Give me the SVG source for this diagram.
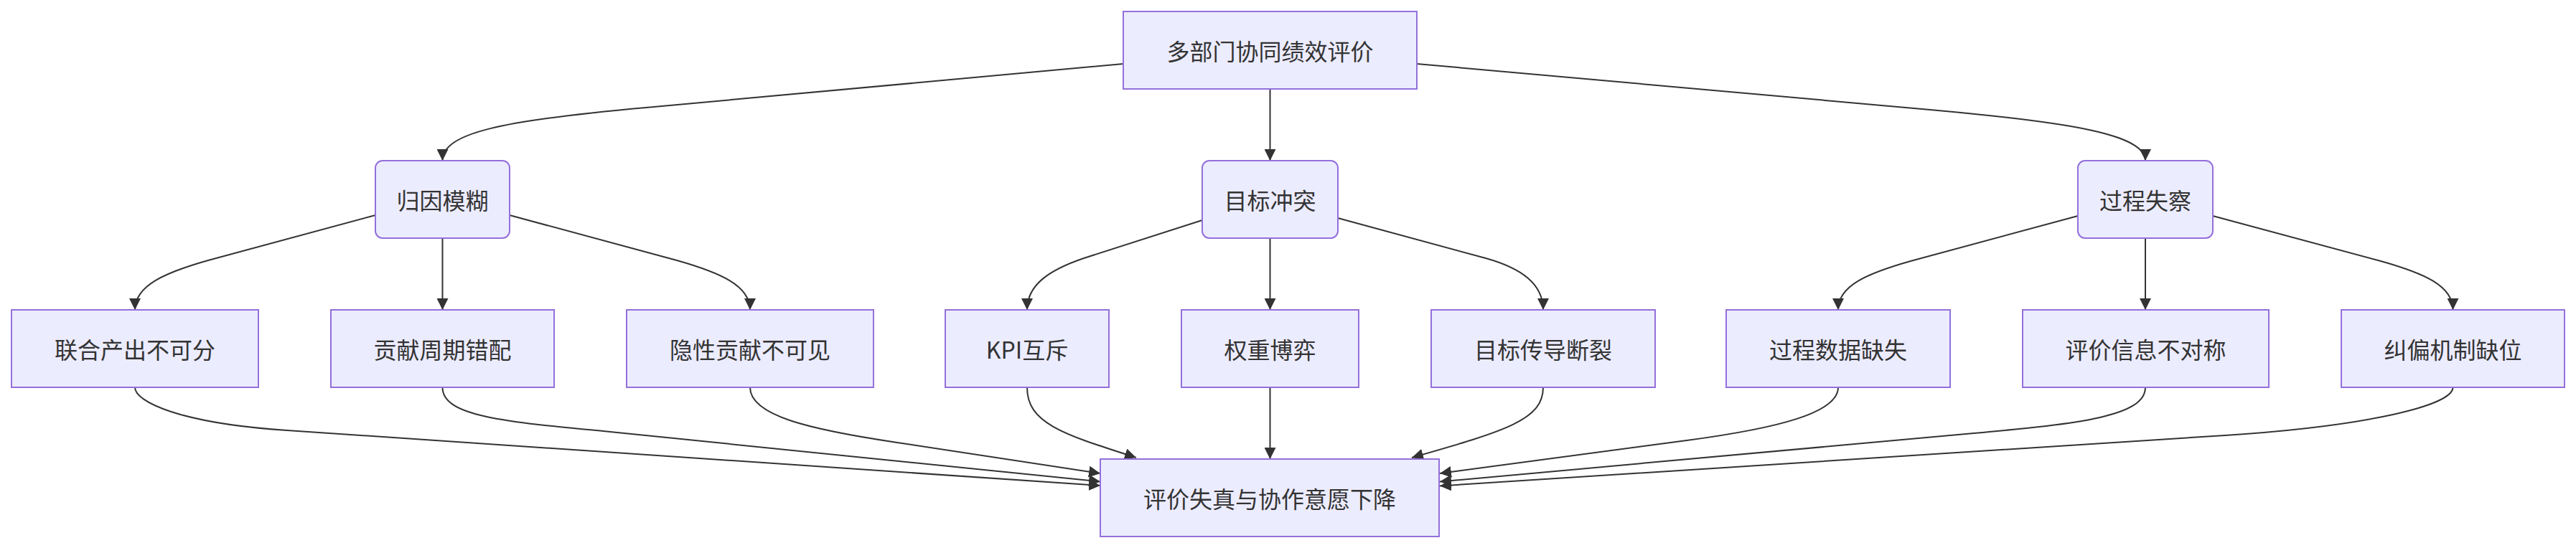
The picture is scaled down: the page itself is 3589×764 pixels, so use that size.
<svg xmlns="http://www.w3.org/2000/svg" width="3589" height="764" viewBox="0 0 3589 764">
<style>
.node rect{fill:#ECECFF;stroke:#9370DB;stroke-width:2}
.node text{font-family:"Noto Sans CJK SC","Liberation Sans",sans-serif;font-size:32px;fill:#333333;text-anchor:middle;dominant-baseline:central}
.edges path{fill:none;stroke:#333333;stroke-width:2;marker-end:url(#arrow)}
</style>
<defs>
<marker id="arrow" viewBox="0 0 10 10" refX="10" refY="5" markerUnits="userSpaceOnUse" markerWidth="16" markerHeight="16" orient="auto">
<path d="M0,0 L10,5 L0,10 z" fill="#333333"/>
</marker>
</defs>
<rect width="3589" height="764" fill="#ffffff"/>
<g class="edges">
<path d="M1565,89 L900,150 C700,168 616.5,185 616.5,224"/>
<path d="M1769.5,124 L1769.5,224"/>
<path d="M1974,89 L2689,153 C2889,171 2989,188 2989,224"/>
<path d="M523,300 L290,363 C230,380 188,398 188,432"/>
<path d="M616.5,332 L616.5,432"/>
<path d="M710,300 L943,363 C1003,380 1045,398 1045,432"/>
<path d="M1675,307 L1510,360 C1460,377 1431,398 1431,432"/>
<path d="M1769.5,332 L1769.5,432"/>
<path d="M1864,304 L2070,360 C2120,374 2150,396 2150,432"/>
<path d="M2895,301 L2662,364 C2602,381 2561,398 2561,432"/>
<path d="M2989,332 L2989,432"/>
<path d="M3083,301 L3317,364 C3377,381 3417.5,398 3417.5,432"/>
<path d="M188,540 C188,560 250,590 400,600 L1533,677"/>
<path d="M616.5,540 C616.5,580 700,588 850,602 L1533,671.5"/>
<path d="M1045,540 C1045,580 1130,599 1250,617 L1533,660"/>
<path d="M1431,540 C1431,590 1480,605 1583,638"/>
<path d="M1769.5,540 L1769.5,640"/>
<path d="M2150,540 C2150,585 2100,600 1967,638"/>
<path d="M2561,540 C2561,575 2480,596.6 2350,614 L2006,660"/>
<path d="M2989,540 C2989,580 2900,590.4 2750,604 L2006,671.5"/>
<path d="M3417.5,540 C3417.5,565 3300,594 3100,607 L2006,677.5"/>
</g>
<g id="n-top" class="node"><rect x="1565" y="16" width="409" height="108"/><text x="1769.5" y="70">多部门协同绩效评价</text></g>
<g id="n-attr" class="node"><rect x="523" y="224" width="187" height="108" rx="10" ry="10"/><text x="616.5" y="278">归因模糊</text></g>
<g id="n-goal" class="node"><rect x="1675" y="224" width="189" height="108" rx="10" ry="10"/><text x="1769.5" y="278">目标冲突</text></g>
<g id="n-proc" class="node"><rect x="2895" y="224" width="188" height="108" rx="10" ry="10"/><text x="2989" y="278">过程失察</text></g>
<g id="n-joint" class="node"><rect x="16" y="432" width="344" height="108"/><text x="188" y="486">联合产出不可分</text></g>
<g id="n-cycle" class="node"><rect x="461" y="432" width="311" height="108"/><text x="616.5" y="486">贡献周期错配</text></g>
<g id="n-hidden" class="node"><rect x="873" y="432" width="344" height="108"/><text x="1045" y="486">隐性贡献不可见</text></g>
<g id="n-kpi" class="node"><rect x="1317" y="432" width="228" height="108"/><text x="1431" y="486">KPI互斥</text></g>
<g id="n-weight" class="node"><rect x="1646" y="432" width="247" height="108"/><text x="1769.5" y="486">权重博弈</text></g>
<g id="n-trans" class="node"><rect x="1994" y="432" width="312" height="108"/><text x="2150" y="486">目标传导断裂</text></g>
<g id="n-data" class="node"><rect x="2405" y="432" width="312" height="108"/><text x="2561" y="486">过程数据缺失</text></g>
<g id="n-info" class="node"><rect x="2818" y="432" width="343" height="108"/><text x="2989.5" y="486">评价信息不对称</text></g>
<g id="n-fix" class="node"><rect x="3262" y="432" width="311" height="108"/><text x="3417.5" y="486">纠偏机制缺位</text></g>
<g id="n-result" class="node"><rect x="1533" y="640" width="472" height="108"/><text x="1769" y="694">评价失真与协作意愿下降</text></g>
</svg>
